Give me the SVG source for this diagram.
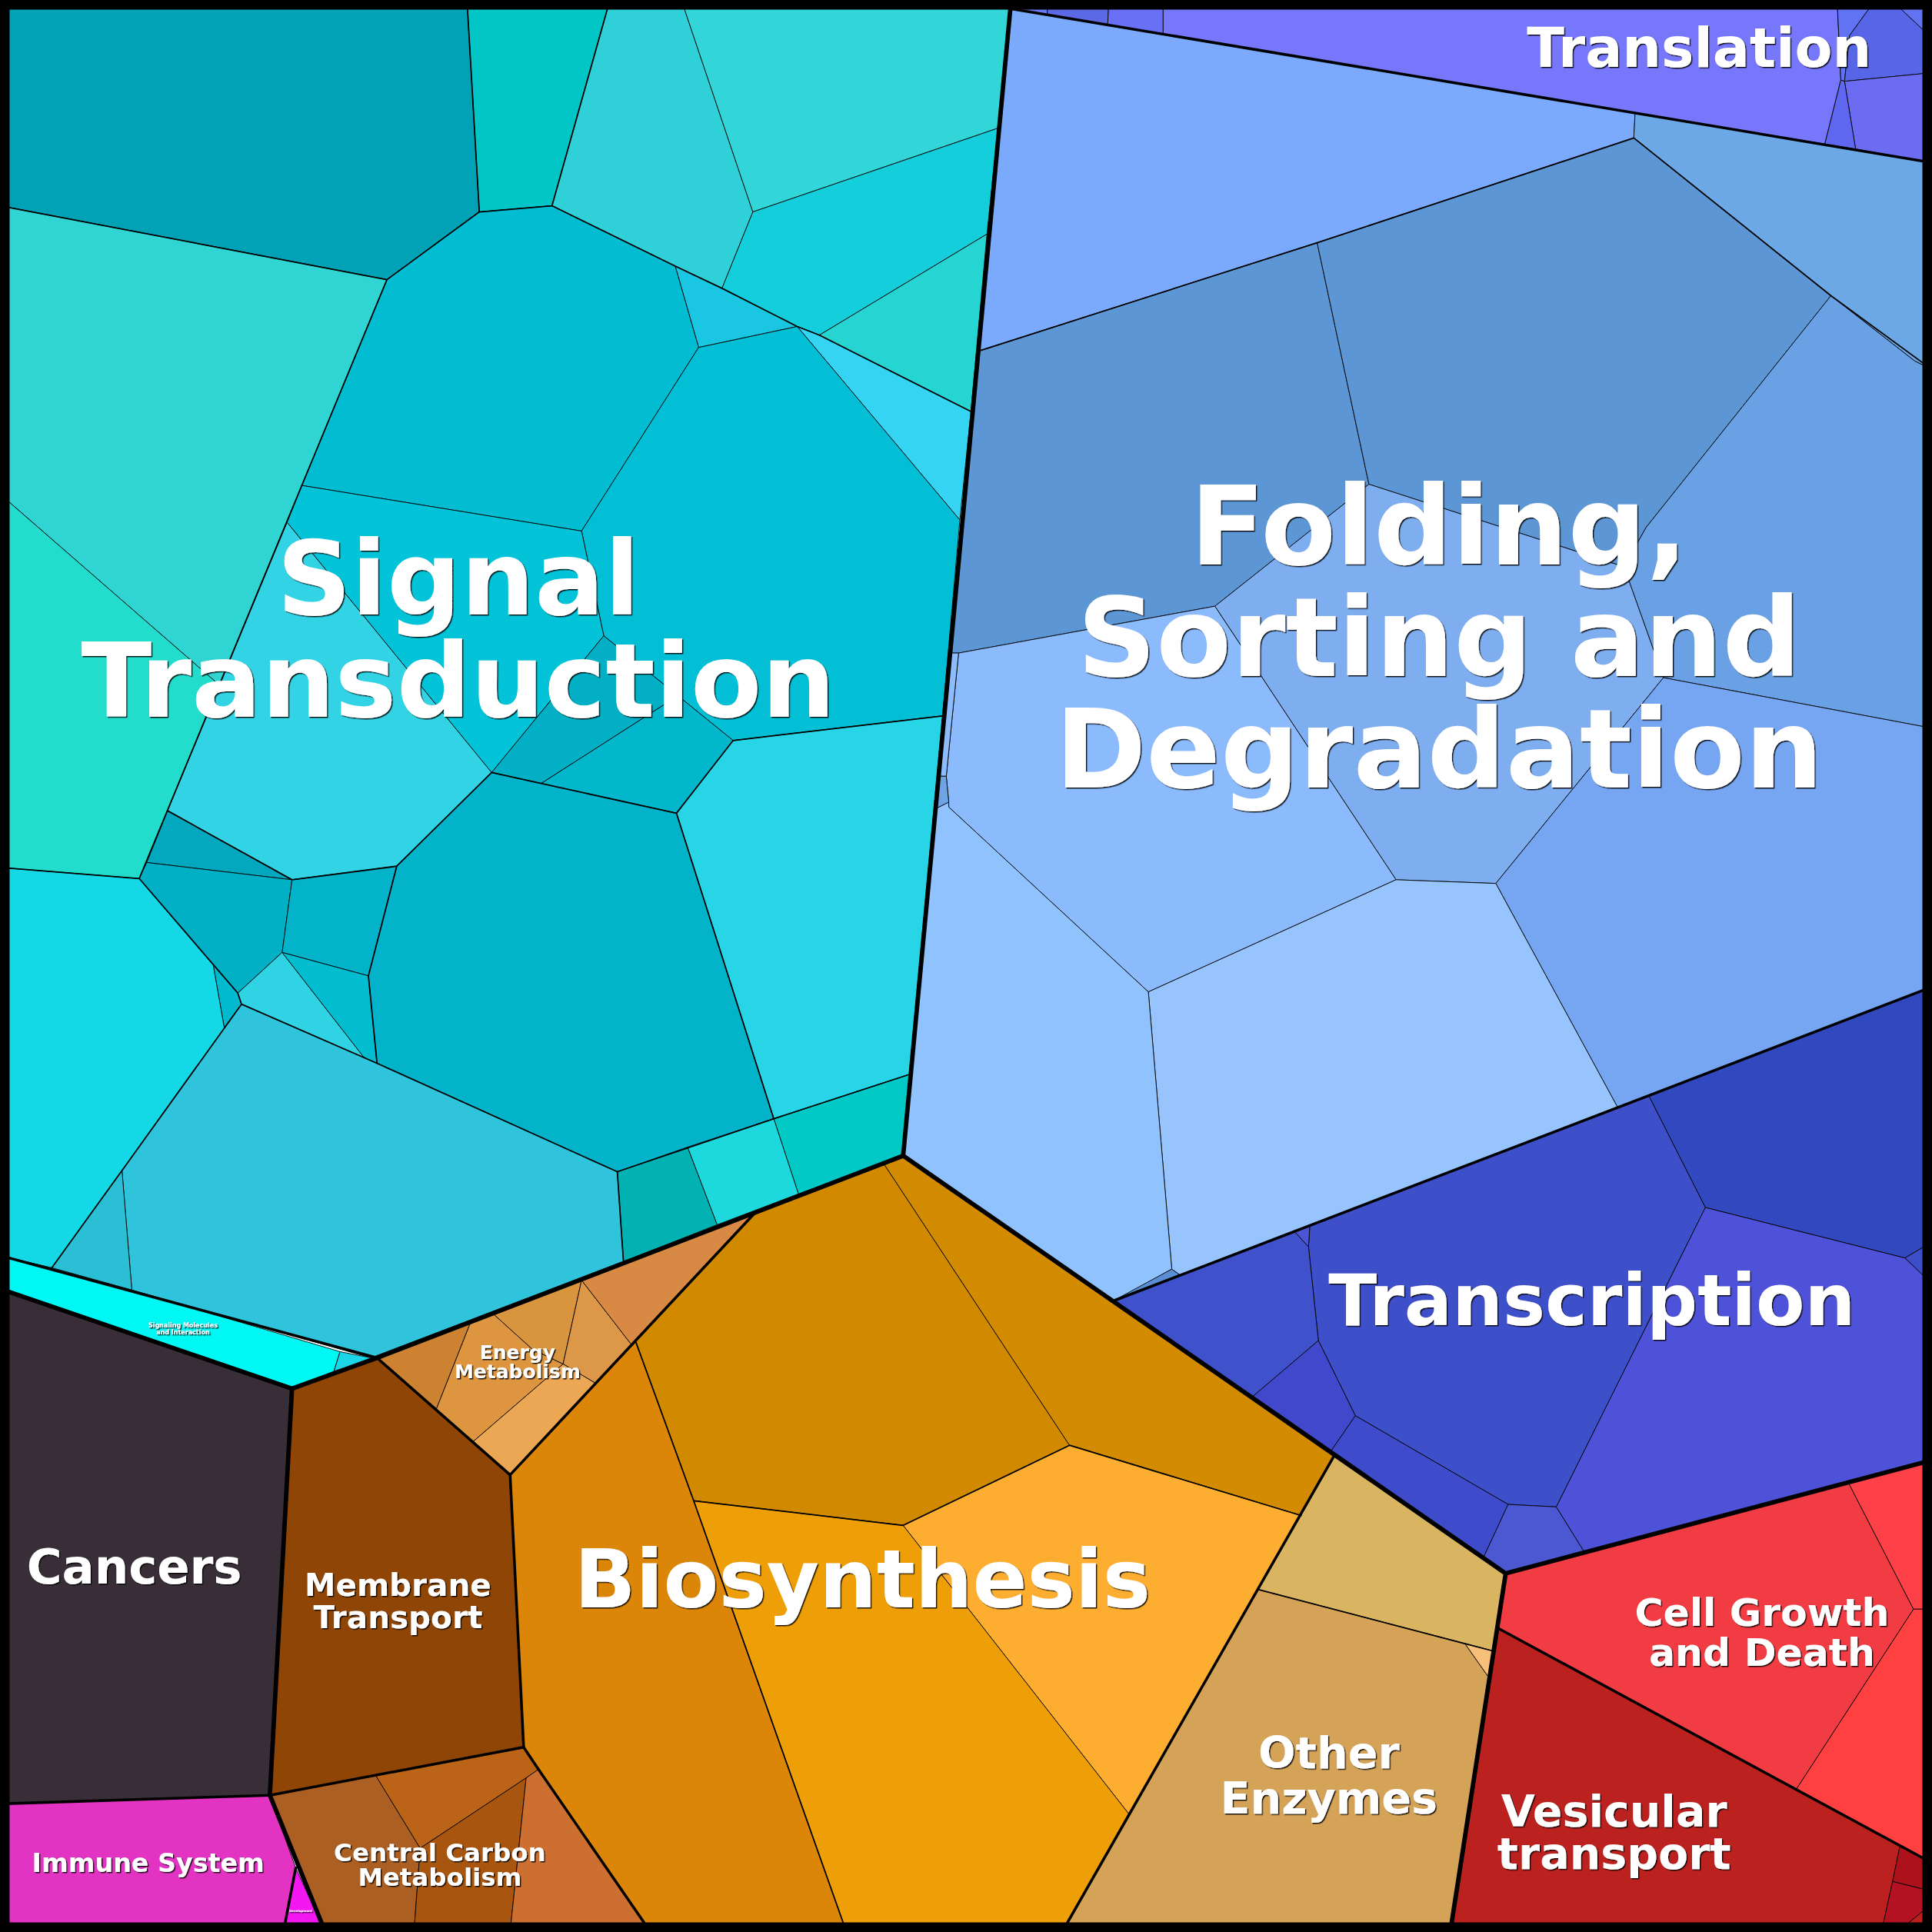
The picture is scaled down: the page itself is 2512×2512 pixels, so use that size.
<svg xmlns="http://www.w3.org/2000/svg" width="2512" height="2512" viewBox="0 0 2512 2512">
<defs>
<style>
.c{stroke:#000;stroke-width:0.55;stroke-linejoin:round}
.b1{fill:none;stroke:#000;stroke-width:3.6;stroke-linejoin:round;stroke-linecap:round}
.b2{fill:none;stroke:#000;stroke-width:2.2;stroke-linejoin:round;stroke-linecap:round}
.b3{fill:none;stroke:#000;stroke-width:1.1;stroke-linejoin:round;stroke-linecap:round}
.lb{font-family:'DejaVu Sans','Liberation Sans',sans-serif;font-weight:bold;fill:#fff;text-anchor:middle;filter:url(#sh)}
</style>
<filter id="sh" x="-5%" y="-5%" width="110%" height="120%">
<feDropShadow dx="0.9" dy="0.9" stdDeviation="0.35" flood-color="#000" flood-opacity="0.9"/>
</filter>
</defs>
<g transform="scale(1.60204)">
<g id="signal-transduction">
<polygon class="c" fill="#02A2B6" points="0,0 379,0 389,172 314,227 0,167"/>
<polygon class="c" fill="#02C5C5" points="379,0 495,0 448,167 389,172"/>
<polygon class="c" fill="#2FD0D8" points="495,0 553,0 611,172 586,234 548,216 448,167"/>
<polygon class="c" fill="#33D6D8" points="553,0 822,0 810,104 611,172"/>
<polygon class="c" fill="#14CEDB" points="611,172 810,104 801,190 665,272 647,265 586,234"/>
<polygon class="c" fill="#26D4D2" points="665,272 801,190 788,334"/>
<polygon class="c" fill="#1AC6E2" points="548,216 586,234 647,265 567,282"/>
<polygon class="c" fill="#34D4F2" points="647,265 665,272 788,334 779,422"/>
<polygon class="c" fill="#02BCD2" points="314,227 389,172 448,167 548,216 567,282 472,431 245,394"/>
<polygon class="c" fill="#02BFD6" points="567,282 647,265 779,422 765,581 595,601 490,516 472,431"/>
<polygon class="c" fill="#02C3D8" points="245,394 472,431 490,516 399,627 233,424"/>
<polygon class="c" fill="#32D3E4" points="233,424 399,627 322,703 237,714 136,658"/>
<polygon class="c" fill="#02AFC4" points="490,516 542,558 542,570 439,636 399,627"/>
<polygon class="c" fill="#02B7CB" points="542,558 595,601 549,660 439,636 542,570"/>
<polygon class="c" fill="#03A8BE" points="136,658 237,714 119,700"/>
<polygon class="c" fill="#02B0C6" points="113,713 119,700 237,714 229,773 193,806"/>
<polygon class="c" fill="#02BAD0" points="173,783 193,806 196,815 182,834"/>
<polygon class="c" fill="#02B3C9" points="237,714 322,703 299,792 229,773"/>
<polygon class="c" fill="#2FD3E3" points="229,773 296,859 196,815 193,806"/>
<polygon class="c" fill="#02BCD0" points="229,773 299,792 306,863 296,859"/>
<polygon class="c" fill="#02B3C9" points="322,703 399,627 549,660 628,908 501,951 306,863 299,792"/>
<polygon class="c" fill="#28D5E6" points="595,601 765,581 738,872 628,908 549,660"/>
<polygon class="c" fill="#02C8C6" points="628,908 738,872 733,938 648,969"/>
<polygon class="c" fill="#1DD8DC" points="558,931 628,908 648,969 582,994"/>
<polygon class="c" fill="#02B2B2" points="501,951 558,931 582,994 506,1024"/>
<polygon class="c" fill="#30C4DC" points="196,815 306,863 501,951 506,1024 301,1102 107,1047 99,950"/>
<polygon class="c" fill="#2BBFD5" points="99,950 107,1047 42,1029"/>
<polygon class="c" fill="#14D8E6" points="0,704 113,713 173,783 182,834 196,815 99,950 42,1029 0,1019"/>
<polygon class="c" fill="#30D5D3" points="0,167 314,227 178,556 0,401"/>
<polygon class="c" fill="#22DCCC" points="0,401 178,556 136,658 119,700 113,713 0,704"/>
</g>
<g id="signaling-molecules-and-interaction">
<polygon class="c" fill="#00F8F4" points="0,1019 42,1029 107,1047 276,1097 271,1113 237,1127 0,1046"/>
<polygon class="c" fill="#1CD6E8" points="276,1097 301,1102 306,1102 271,1113"/>
</g>
<g id="folding-sorting-and-degradation">
<polygon class="c" fill="#7BAAFC" points="820,7 1327,92 1326,112 1069,197 794,285"/>
<polygon class="c" fill="#6CA8E6" points="1327,92 1568,132 1568,300 1554,293 1486,240 1326,112"/>
<polygon class="c" fill="#5D96D4" points="794,285 1069,197 1111,393 986,492 778,530 771,530"/>
<polygon class="c" fill="#5C96D4" points="1069,197 1326,112 1486,240 1336,428 1318,460 1111,393"/>
<polygon class="c" fill="#69A1E4" points="1486,240 1554,293 1568,300 1568,591 1350,550 1318,460 1336,428"/>
<polygon class="c" fill="#7EAEF0" points="986,492 1111,393 1318,460 1350,550 1214,717 1133,714"/>
<polygon class="c" fill="#8BBBFC" points="778,530 986,492 1133,714 932,805 770,655 770,651 768,630"/>
<polygon class="c" fill="#76A6F1" points="1350,550 1568,591 1568,801 1313,899 1214,717"/>
<polygon class="c" fill="#98C4FD" points="932,805 1133,714 1214,717 1313,899 958,1035 951,1030"/>
<polygon class="c" fill="#90C2FD" points="760,656 770,651 770,655 932,805 951,1030 909,1054 903,1056 733,938"/>
<polygon class="c" fill="#8DBCFC" points="771,530 778,530 768,630 762,630"/>
<polygon class="c" fill="#6FA4E4" points="762,630 768,630 770,651 760,656"/>
<polygon class="c" fill="#5A8FD6" points="903,1056 951,1030 958,1035 909,1054"/>
</g>
<g id="translation">
<polygon class="c" fill="#6A7AF0" points="820,7 820,0 850,0 850,12"/>
<polygon class="c" fill="#5B69E4" points="850,0 900,0 899,20 850,12"/>
<polygon class="c" fill="#6A70F6" points="900,0 944,0 944,28 899,20"/>
<polygon class="c" fill="#7777FC" points="944,0 1491,0 1494,65 1481,117 944,28"/>
<polygon class="c" fill="#6073F2" points="1491,0 1522,0 1501,29 1497,66 1494,65"/>
<polygon class="c" fill="#5766E6" points="1522,0 1535,0 1568,31 1568,59 1497,66 1501,29"/>
<polygon class="c" fill="#6272F0" points="1535,0 1568,0 1568,31"/>
<polygon class="c" fill="#6C6CF2" points="1497,66 1568,59 1568,132 1506,121"/>
<polygon class="c" fill="#5F66F0" points="1494,65 1497,66 1506,121 1481,117"/>
</g>
<g id="transcription">
<polygon class="c" fill="#3148BE" points="1338,889 1568,801 1568,1008 1546,1021 1384,980"/>
<polygon class="c" fill="#3D4FC8" points="1546,1021 1568,1008 1568,1042"/>
<polygon class="c" fill="#4E52D8" points="1384,980 1546,1021 1568,1042 1568,1186 1286,1260 1263,1223"/>
<polygon class="c" fill="#3E4FCA" points="1063,995 1338,889 1384,980 1263,1223 1224,1221 1100,1149 1070,1088 1062,1012"/>
<polygon class="c" fill="#4A56D4" points="1051,1000 1063,995 1062,1012"/>
<polygon class="c" fill="#3F51CB" points="903,1056 1051,1000 1062,1012 1070,1088 1016,1134"/>
<polygon class="c" fill="#4148CC" points="1016,1134 1070,1088 1100,1149 1080,1178"/>
<polygon class="c" fill="#3E4BCA" points="1080,1178 1100,1149 1224,1221 1204,1264"/>
<polygon class="c" fill="#4C57D2" points="1204,1264 1224,1221 1263,1223 1286,1260 1222,1277"/>
</g>
<g id="energy-metabolism">
<polygon class="c" fill="#CD8231" points="306,1102 382,1073 354,1144"/>
<polygon class="c" fill="#DE9540" points="382,1073 400,1066 432,1095 457,1107 384,1170 354,1144"/>
<polygon class="c" fill="#D9943E" points="400,1066 472,1039 457,1107 432,1095"/>
<polygon class="c" fill="#DC9748" points="472,1039 513,1092 484,1123 457,1107"/>
<polygon class="c" fill="#ECA755" points="384,1170 457,1107 484,1123 414,1197"/>
<polygon class="c" fill="#D88A44" points="472,1039 614,983 513,1092"/>
</g>
<g id="membrane-transport">
<polygon class="c" fill="#8F4505" points="237,1127 306,1102 414,1197 425,1418 219,1457"/>
</g>
<g id="central-carbon-metabolism">
<polygon class="c" fill="#AC5F22" points="219,1457 305,1441 341,1500 336,1568 264,1568"/>
<polygon class="c" fill="#BB6417" points="305,1441 425,1418 437,1436 427,1443 341,1500"/>
<polygon class="c" fill="#A7550F" points="341,1500 427,1443 414,1568 336,1568"/>
<polygon class="c" fill="#CD6F30" points="427,1443 437,1436 528,1568 414,1568"/>
</g>
<g id="biosynthesis">
<polygon class="c" fill="#DB8609" points="414,1197 516,1089 563,1218 687,1568 528,1568 437,1436 425,1418"/>
<polygon class="c" fill="#D18A00" points="516,1089 614,983 717,944 868,1173 733,1238 563,1218"/>
<polygon class="c" fill="#D38B01" points="717,944 733,938 1083,1181 1056,1230 868,1173"/>
<polygon class="c" fill="#FDAE30" points="733,1238 868,1173 1056,1230 916,1472"/>
<polygon class="c" fill="#EE9F08" points="563,1218 733,1238 916,1472 862,1568 687,1568"/>
</g>
<g id="other-enzymes">
<polygon class="c" fill="#D9B562" points="1083,1181 1222,1277 1212,1340 1189,1334 1021,1290"/>
<polygon class="c" fill="#D5A357" points="1021,1290 1189,1334 1208,1361 1177,1568 862,1568"/>
<polygon class="c" fill="#F8BF78" points="1189,1334 1212,1340 1208,1361"/>
</g>
<g id="cell-growth-and-death">
<polygon class="c" fill="#F23C44" points="1222,1277 1500,1203 1553,1306 1458,1452 1215,1321"/>
<polygon class="c" fill="#FE4149" points="1500,1203 1568,1185 1568,1306 1553,1306"/>
<polygon class="c" fill="#FE4040" points="1553,1306 1568,1306 1568,1512 1458,1452"/>
</g>
<g id="vesicular-transport">
<polygon class="c" fill="#BB211E" points="1215,1321 1542,1498 1536,1527 1527,1568 1177,1568"/>
<polygon class="c" fill="#AD111B" points="1542,1498 1568,1512 1568,1535 1536,1527"/>
<polygon class="c" fill="#B31223" points="1536,1527 1568,1535 1568,1545 1540,1568 1527,1568"/>
<polygon class="c" fill="#BB201E" points="1540,1568 1568,1545 1568,1568"/>
</g>
<g id="cancers">
<polygon class="c" fill="#392E37" points="0,1046 237,1127 219,1457 0,1464"/>
</g>
<g id="immune-system">
<polygon class="c" fill="#E333C3" points="0,1464 219,1457 240,1516 230,1568 0,1568"/>
</g>
<g id="development">
<polygon class="c" fill="#F418F0" points="240,1516 264,1568 230,1568"/>
</g>
<g id="boundaries">
<polyline class="b3" points="0,167 314,227 389,172 379,0"/>
<polyline class="b3" points="389,172 448,167 495,0"/>
<polyline class="b3" points="448,167 548,216 586,234 647,265 665,272 788,334"/>
<polyline class="b3" points="314,227 113,713"/>
<polyline class="b3" points="0,704 113,713 193,806 196,815 99,950 42,1029"/>
<polyline class="b3" points="196,815 306,863 501,951 628,908 738,872"/>
<polyline class="b3" points="501,951 506,1024"/>
<polyline class="b3" points="136,658 237,714 322,703 399,627 549,660 595,601 765,581"/>
<polyline class="b3" points="549,660 628,908"/>
<polyline class="b3" points="322,703 299,792 306,863"/>
<polyline class="b3" points="794,285 1069,197 1326,112 1486,240 1568,300"/>
<polyline class="b3" points="516,1089 563,1218 687,1568"/>
<polyline class="b3" points="563,1218 733,1238 868,1173 1056,1230"/>
<polyline class="b3" points="1021,1290 1189,1334 1212,1340"/>
<polyline class="b2" points="0,1019 306,1102"/>
<polyline class="b2" points="820,7 1568,132"/>
<polyline class="b2" points="903,1056 1568,801"/>
<polyline class="b2" points="0,1464 219,1457"/>
<polyline class="b2" points="306,1102 414,1197 425,1418 219,1457"/>
<polyline class="b2" points="414,1197 614,983"/>
<polyline class="b2" points="425,1418 437,1436 528,1568"/>
<polyline class="b2" points="1083,1181 862,1568"/>
<polyline class="b2" points="1215,1321 1568,1512"/>
<polyline class="b2" points="240,1516 230,1568"/>
<polyline class="b1" points="820,0 820,7 733,938"/>
<polyline class="b1" points="733,938 306,1102 237,1127 0,1046"/>
<polyline class="b1" points="237,1127 219,1457 264,1568"/>
<polyline class="b1" points="733,938 1222,1277 1177,1568"/>
<polyline class="b1" points="1222,1277 1568,1185"/>
<rect x="0" y="0" width="1568" height="1568" fill="none" stroke="#000" stroke-width="15.6"/>
</g>
<g id="labels">
<text class="lb" x="372" y="499" font-size="84">Signal</text>
<text class="lb" x="372" y="582" font-size="84">Transduction</text>
<text class="lb" x="1168" y="458" font-size="89">Folding,</text>
<text class="lb" x="1168" y="548.5" font-size="89">Sorting and</text>
<text class="lb" x="1168" y="639" font-size="89">Degradation</text>
<text class="lb" x="1379" y="54.5" font-size="44.5">Translation</text>
<text class="lb" x="1292" y="1075.5" font-size="57.7">Transcription</text>
<text class="lb" x="700" y="1304.5" font-size="65.4">Biosynthesis</text>
<text class="lb" x="109" y="1285.5" font-size="39">Cancers</text>
<text class="lb" x="323" y="1295" font-size="25.3">Membrane</text>
<text class="lb" x="323" y="1321.3" font-size="25.3">Transport</text>
<text class="lb" x="420" y="1103" font-size="15.6">Energy</text>
<text class="lb" x="420" y="1118.4" font-size="15.6">Metabolism</text>
<text class="lb" x="357" y="1510.4" font-size="20.3">Central Carbon</text>
<text class="lb" x="357" y="1530.6" font-size="20.3">Metabolism</text>
<text class="lb" x="120.3" y="1519.3" font-size="20.8">Immune System</text>
<text class="lb" x="1078.5" y="1435" font-size="35.7">Other</text>
<text class="lb" x="1078.5" y="1471.6" font-size="35.7">Enzymes</text>
<text class="lb" x="1430" y="1319.6" font-size="31.5">Cell Growth</text>
<text class="lb" x="1430" y="1351.9" font-size="31.5">and Death</text>
<text class="lb" x="1310" y="1482.2" font-size="35.6">Vesicular</text>
<text class="lb" x="1310" y="1517" font-size="35.6">transport</text>
<text class="lb" x="148.5" y="1077.5" font-size="5">Signaling Molecules</text>
<text class="lb" x="148.5" y="1083" font-size="5">and Interaction</text>
<text class="lb" x="244" y="1552" font-size="2.5">Development</text>
</g>
</g>
</svg>
